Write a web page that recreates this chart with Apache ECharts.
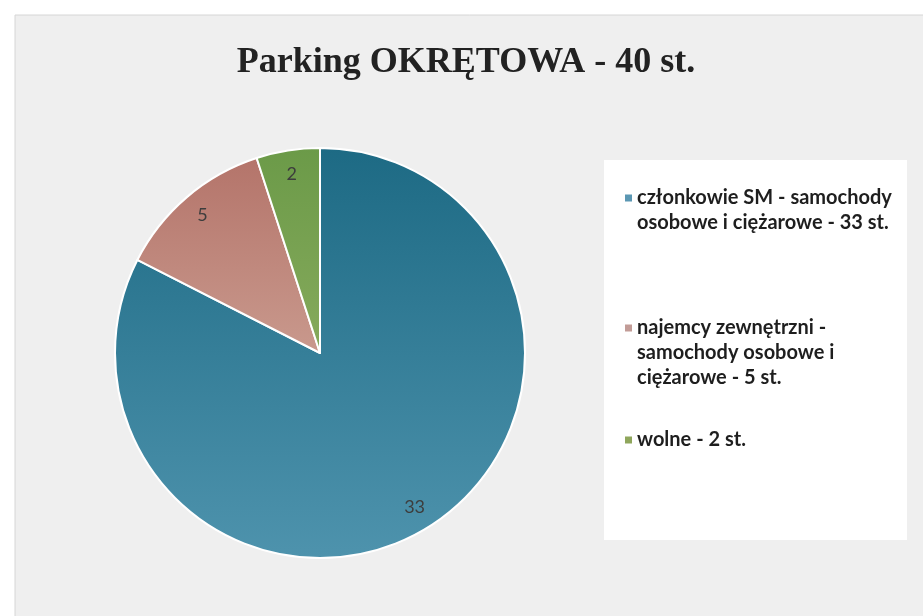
<!DOCTYPE html>
<html>
<head>
<meta charset="utf-8">
<script src="https://cdn.jsdelivr.net/npm/echarts@6/dist/echarts.min.js"></script>
<style>
  html, body { margin: 0; padding: 0; background: #fff; }
  #main { width: 923px; height: 616px; }
</style>
</head>
<body>
<div id="main"></div>
<script>
// dane wykresu
const titleText = 'Parking OKRĘTOWA - 40 st.'
const names = [
  'członkowie SM - samochody\nosobowe i ciężarowe - 33 st.',
  'najemcy zewnętrzni -\nsamochody osobowe i\nciężarowe - 5 st.',
  'wolne - 2 st.'
]
const values = [33, 5, 2]

// kolory: góra / dół wycinka, ikona legendy
const topColors = ['#1d6a84', '#b4746a', '#6b9a48']
const bottomColors = ['#4e93ad', '#c9998d', '#86aa5c']
const iconColors = ['#5b97b3', '#c29c97', '#8fa65c']

const lineH = 25
const iconH = 60
const legendFont = 'Lato, "Noto Sans", sans-serif'
// pierwsza linia kazdej pozycji legendy (y)
const legendLineY = [198, 328, 440]

const chart = echarts.init(document.getElementById('main'))

const pieData = values.map(function (v, i) {
  return {
    name: names[i],
    value: v,
    itemStyle: {
      color: new echarts.graphic.LinearGradient(0, 0, 0, 1, [
        { offset: 0, color: topColors[i] },
        { offset: 1, color: bottomColors[i] }
      ])
    }
  }
})

// ikona (kwadrat 7px) przy pierwszej linii tekstu, nie na srodku
function iconPath (lines) {
  const c = iconH / 2 - (lines - 1) * lineH / 2
  const a = c - 3.5
  const b = c + 3.5
  return 'path://M0 0L0 0M7 ' + iconH + 'L7 ' + iconH +
    'M0 ' + a + 'L7 ' + a + 'L7 ' + b + 'L0 ' + b + 'Z'
}

const legends = names.map(function (n, i) {
  const lines = n.split('\n').length
  const textH = lines * lineH
  // gorna krawedz grupy i polozenie pierwszej linii w niej
  const groupTop = Math.min(0, iconH / 2 - textH / 2)
  const firstLine = iconH / 2 - textH / 2 + lineH / 2 - groupTop
  return {
    orient: 'vertical',
    left: 625,
    top: legendLineY[i] - firstLine,
    padding: 0,
    itemWidth: 7,
    itemHeight: iconH,
    selectedMode: false,
    data: [{
      name: n,
      icon: iconPath(lines),
      itemStyle: { color: iconColors[i], borderWidth: 0 }
    }],
    textStyle: {
      fontFamily: legendFont,
      fontSize: 20,
      fontWeight: 'bold',
      color: '#1e1e1e',
      lineHeight: lineH
    }
  }
})

const option = {
  backgroundColor: '#ffffff',
  animation: false,
  graphic: [
    {
      type: 'rect',
      z: -10,
      shape: { x: 15, y: 15, width: 930, height: 620 },
      style: { fill: '#efefef', stroke: '#d6d6d6', lineWidth: 1 }
    },
    {
      type: 'rect',
      z: -9,
      shape: { x: 604, y: 160, width: 303, height: 380 },
      style: { fill: '#ffffff' }
    }
  ],
  title: {
    text: titleText,
    left: 461,
    top: 40,
    textAlign: 'center',
    textStyle: {
      fontFamily: '"Liberation Serif", serif',
      fontWeight: 'bold',
      fontSize: 36,
      color: '#222222'
    }
  },
  legend: legends,
  series: [
    {
      type: 'pie',
      center: [320, 353],
      radius: [0, 205],
      startAngle: 90,
      clockwise: true,
      silent: true,
      itemStyle: { borderColor: '#ffffff', borderWidth: 2 },
      label: { show: false },
      labelLine: { show: false },
      data: pieData
    },
    {
      // pierscien tylko dla etykiet wartosci
      type: 'pie',
      center: [320, 353],
      radius: [151, 205],
      startAngle: 90,
      clockwise: true,
      silent: true,
      itemStyle: { color: 'transparent', borderWidth: 0 },
      label: {
        show: true,
        position: 'inside',
        rotate: 0,
        formatter: '{c}',
        fontFamily: legendFont,
        fontSize: 18,
        color: '#3d3d3d'
      },
      labelLine: { show: false },
      data: values.map(function (v, i) { return { name: names[i], value: v } })
    }
  ]
}

chart.setOption(option)
</script>
</body>
</html>
